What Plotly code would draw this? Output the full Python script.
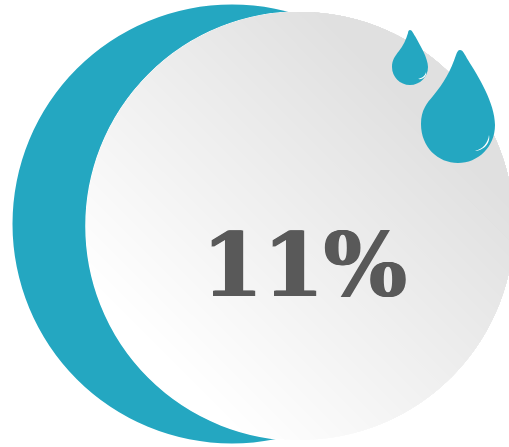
import math
import plotly.graph_objects as go

value = [11]
label = [f"{value[0]}%"]
TEAL = "#24a7c1"
TEXT = "#595959"
W, H = 509, 447

shapes = []

def circle(cx, cy, r, fill, line=None, lw=0):
    shapes.append(dict(type="circle", xref="x", yref="y", x0=cx-r, x1=cx+r, y0=cy-r, y1=cy+r,
                       fillcolor=fill, line=dict(color=line or fill, width=lw), layer="above"))

def path(d, fill, lw=0):
    shapes.append(dict(type="path", xref="x", yref="y", path=d, fillcolor=fill,
                       line=dict(color=fill, width=lw), layer="above"))

# teal back disc
circle(232, 224, 219.5, TEAL)

# gray disc, diagonal gradient built of stacked circular segments
cx, cy, r = 300, 226, 214
circle(cx, cy, r, "#ffffff", "#ffffff", 1.5)
LIGHT, DARK = 255, 224
levels = LIGHT - DARK
base = math.atan2(-1, 1)
for i in range(1, levels + 1):
    t = -0.92 + (0.75 + 0.92) * i / levels   # fraction of radius along the diagonal
    half = math.acos(t)
    n = 90
    pts = [(cx + r*math.cos(base - half + 2*half*k/n), cy + r*math.sin(base - half + 2*half*k/n)) for k in range(n+1)]
    d = "M " + " L ".join(f"{x:.2f},{y:.2f}" for x, y in pts) + " Z"
    g = LIGHT - i
    path(d, f"rgb({g},{g},{g})")

# drops
path("M 460,50 C 463,50 465,55 468,60 C 478,76 495,103 495,125 C 495,147 478,163 458,163 "
     "C 438,163 421,147 421,124 C 421,110 427,103 433,96 C 444,83 451,70 456,55 C 457,52 458,50 460,50 Z", TEAL)
path("M 410,30 C 412,30 413,33 415,36 C 420,45 428,58 428,67 C 428,77 420,85 410,85 "
     "C 400,85 392,77 392,67 C 392,60 395,56 399,51 C 403,46 406,40 408,33 C 408,31 409,30 410,30 Z", TEAL)
# highlights
path("M 489,135 C 488,143 483,149 475,151 C 482,151 491,144 489,135 Z", "#ffffff")
path("M 426,72 C 425,76 422,78 418,79 C 423,80 427,76 426,72 Z", "#ffffff")

fig = go.Figure()
fig.add_trace(go.Scatter(x=[0, W], y=[0, H], mode="markers", marker=dict(opacity=0), hoverinfo="skip", showlegend=False))
fig.update_layout(
    width=W, height=H, margin=dict(l=0, r=0, t=0, b=0),
    paper_bgcolor="white", plot_bgcolor="white", showlegend=False,
    xaxis=dict(range=[0, W], visible=False, fixedrange=True),
    yaxis=dict(range=[H, 0], visible=False, fixedrange=True),
    shapes=shapes,
    annotations=[dict(x=304, y=265, xref="x", yref="y", text=f"<b>{label[0]}</b>", showarrow=False,
                      xanchor="center", yanchor="middle",
                      font=dict(family="DejaVu Serif", size=87.5, color=TEXT,
                                shadow="1px 0 0 #595959, -1px 0 0 #595959"))],
)
fig.write_html("out.html", config=dict(displayModeBar=False),
               post_script="document.body.style.margin='0';document.body.style.overflow='hidden';")
